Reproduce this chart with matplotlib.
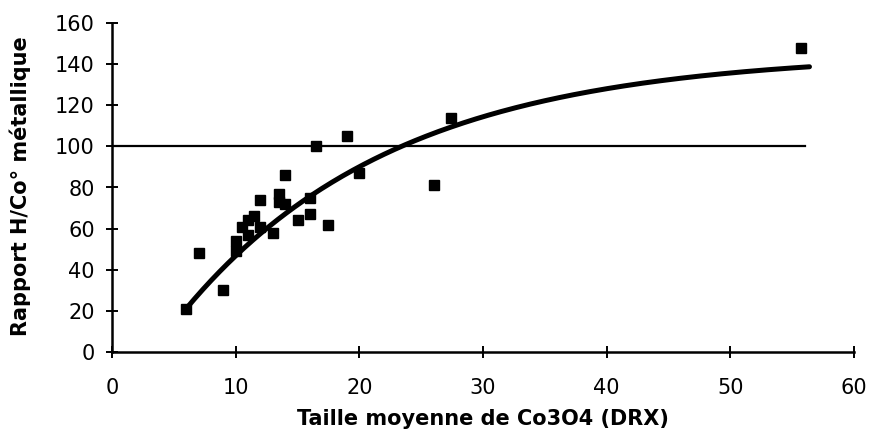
import numpy as np
import matplotlib
matplotlib.use("Agg")
import matplotlib.pyplot as plt

# Scatter data (Taille moyenne de Co3O4 vs Rapport H/Co°)
taille = [6, 7, 9, 10, 10, 10.5, 11, 11, 11.5, 12, 12, 13, 13.5, 13.5, 14, 14,
          15, 16, 16, 16.5, 17.5, 19, 20, 26, 27.4, 55.7]
rapport = [21, 48, 30, 49, 54, 61, 57, 64, 66, 61, 74, 58, 77, 73, 72, 86,
           64, 67, 75, 100, 62, 105, 87, 81, 114, 148]

# Trend curve
curve_x = [6, 8.5, 12, 17.9, 20.9, 23.5, 35.1, 48.6, 56.4]
curve_y = [21, 37, 59, 83, 93, 100, 121, 135.5, 139]

ref_level = 100
ref_x_end = 56

xticks = [0, 10, 20, 30, 40, 50, 60]
yticks = [0, 20, 40, 60, 80, 100, 120, 140, 160]

# smooth saturating trend y = A - B*exp(-x/k) through the read curve points
cx = np.asarray(curve_x, float)
cy = np.asarray(curve_y, float)
best = None
for k in np.linspace(8, 30, 221):
    M = np.column_stack([np.ones_like(cx), -np.exp(-cx / k)])
    sol, res, *_ = np.linalg.lstsq(M, cy, rcond=None)
    err = np.sum((M @ sol - cy) ** 2)
    if best is None or err < best[0]:
        best = (err, k, sol)
_, kbest, (A, B) = best

fig = plt.figure(figsize=(8.72, 4.48), dpi=100)
ax = fig.add_axes([112/872, 1-352/448, (854-112)/872, (352-23)/448])

xs = np.linspace(cx.min(), cx.max(), 300)
ax.plot(xs, A - B * np.exp(-xs / kbest), color="black", lw=3.6,
        solid_capstyle="round", zorder=3)

ax.plot([0, ref_x_end], [ref_level, ref_level], color="black", lw=1.6, zorder=2)

ax.plot(taille, rapport, linestyle="none", marker="s", markersize=7.8,
        color="black", zorder=4)

ax.set_xlim(0, 60)
ax.set_ylim(0, 160)
ax.set_xticks(xticks)
ax.set_yticks(yticks)
for s in ["top", "right"]:
    ax.spines[s].set_visible(False)
for s in ["left", "bottom"]:
    ax.spines[s].set_linewidth(1.8)
ax.tick_params(axis="both", direction="inout", length=9, width=1.4,
               labelsize=15, colors="black")
ax.tick_params(axis="x", pad=14)
ax.tick_params(axis="y", pad=8)

fig.text(20/872, 1-186/448, "Rapport H/Co° métallique", rotation=90,
         ha="center", va="center", fontsize=15, fontweight="bold")
fig.text(483/872, 1-419/448, "Taille moyenne de Co3O4 (DRX)",
         ha="center", va="center", fontsize=15, fontweight="bold")

fig.savefig("out.png", dpi=100)
